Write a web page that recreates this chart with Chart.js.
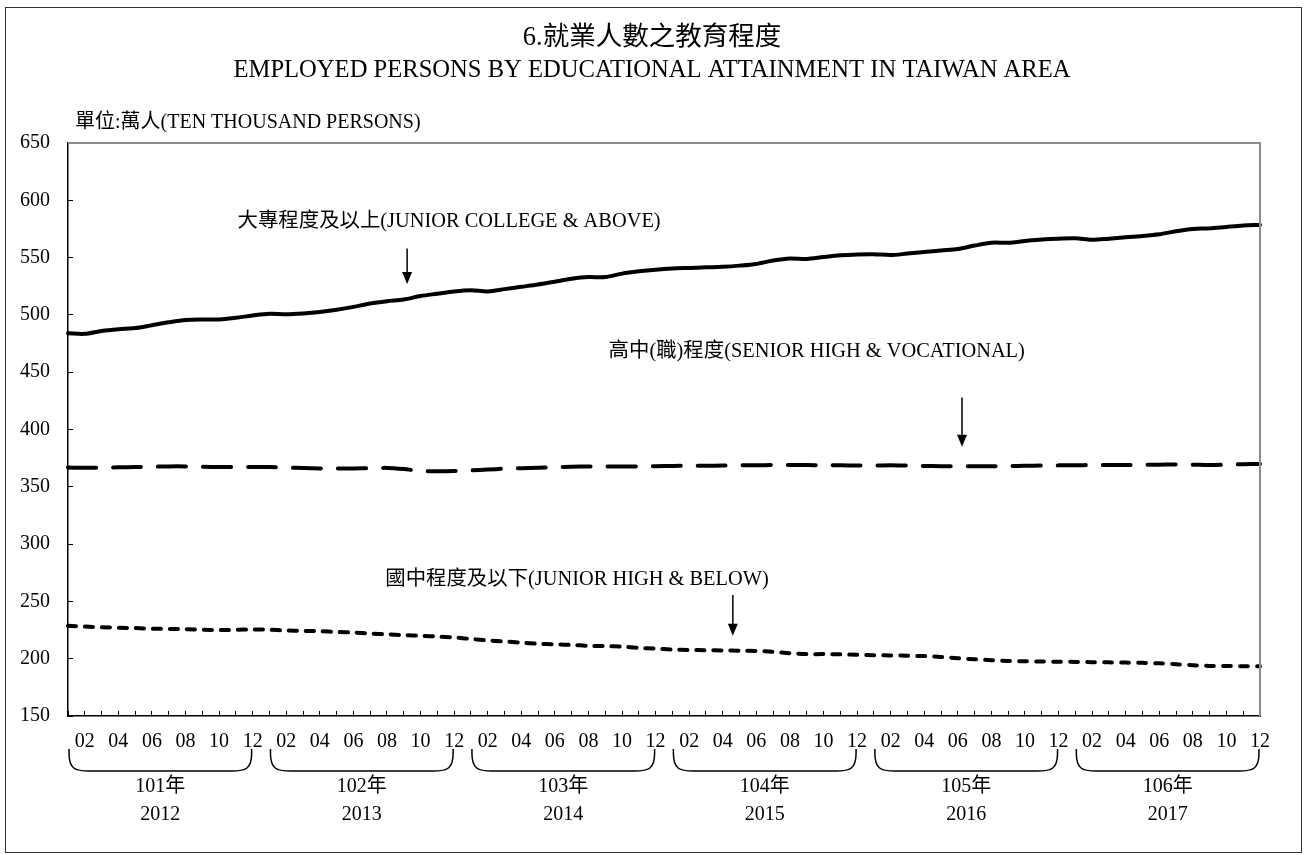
<!DOCTYPE html>
<html><head><meta charset="utf-8">
<script src="https://cdn.jsdelivr.net/npm/chart.js@4"></script>
<style>html,body{margin:0;padding:0;background:#fff}#wrap{width:1304px;height:855px;position:relative}canvas{display:block}</style>
</head><body><div id="wrap"><canvas id="c" width="1304" height="855"></canvas></div>
<script>
// ---- data ----
const years = [2012, 2013, 2014, 2015, 2016, 2017];
const rocYears = ['101年', '102年', '103年', '104年', '105年', '106年'];
const monthCodes = ['01','02','03','04','05','06','07','08','09','10','11','12'];
const categories = years.flatMap(y => monthCodes.map(m => y + '-' + m));
const tickLabels = ['02','04','06','08','10','12'];
const yTickValues = [150, 200, 250, 300, 350, 400, 450, 500, 550, 600, 650];

const titleLines = ['6.就業人數之教育程度', 'EMPLOYED PERSONS BY EDUCATIONAL ATTAINMENT IN TAIWAN AREA'];
const unitLabel = '單位:萬人(TEN THOUSAND PERSONS)';
const seriesNames = ['大專程度及以上(JUNIOR COLLEGE & ABOVE)', '高中(職)程度(SENIOR HIGH & VOCATIONAL)', '國中程度及以下(JUNIOR HIGH & BELOW)'];

const juniorCollegeAbove = [
  484,483.5,486,487.5,488.5,491,493.5,495.5,496,496,497.5,499.5,
  501,500.5,501.2,502.5,504.5,507,510,512,513.5,516.5,518.5,520.5,
  521.5,520.5,522.5,524.5,526.5,529,531.5,533,533,536,538,539.5,
  540.5,541,541.5,542,543,544.5,547.5,549.3,548.8,550.5,552,552.8,
  553,552.2,553.5,554.8,556.2,557.5,560.5,563,563,564.5,565.8,566.5,
  566.8,565.5,566.5,567.8,568.8,570.3,573,575,575.5,576.8,578,578.5
];
const seniorHighVocational = [
  366.8,366.6,366.8,367,367.2,367.5,367.8,367.8,367.5,367.3,367.3,367.2,
  367.2,366.8,366.3,366,366,366,366.2,366.5,365.5,363.8,363.5,363.7,
  364.3,365,365.8,366.2,366.6,367,367.5,367.7,367.8,367.8,367.8,368,
  368.2,368.3,368.3,368.5,368.7,368.8,369,369,369,368.8,368.7,368.5,
  368.6,368.7,368.5,368.2,368,368,368,368,368.2,368.3,368.5,368.7,
  368.8,369,369,369,369.2,369.3,369.5,369.3,369,369.3,369.7,370
];
const juniorHighBelow = [
  228.8,228,227.5,227,226.7,226.2,226,225.8,225.3,225,225.2,225.5,
  225.3,224.6,224.3,224,223.3,222.8,222,221.3,220.5,220,219.3,218.5,
  217.2,216,215,214,213,212.5,212,211.3,211,210.5,209.5,208.8,
  208,207.6,207.4,207.2,207,206.8,206,204.8,204,204,203.8,203.4,
  203.1,202.9,202.6,202.3,201.5,200.4,199.5,198.7,198,197.8,197.5,197.4,
  197.2,197,196.8,196.6,196.4,196,195.2,194.3,193.7,193.6,193.5,193.4
];

// ---- annotation placement (data coordinates) ----
const annotations = [
  { text: seriesNames[0], labelIdx: 10.1, labelVal: 581, arrowIdx: 20.2, fromVal: 558, toVal: 527 },
  { text: seriesNames[1], labelIdx: 32.2, labelVal: 467.6, arrowIdx: 53.25, fromVal: 428, toVal: 385 },
  { text: seriesNames[2], labelIdx: 18.9, labelVal: 268.7, arrowIdx: 39.6, fromVal: 255.6, toVal: 220 }
];

const FONT = "'Liberation Serif', 'Noto Sans CJK TC', serif";

const decor = {
  id: 'decor',
  afterDraw(chart) {
    const ctx = chart.ctx;
    const xs = chart.scales.x, ys = chart.scales.y;
    const ca = chart.chartArea;
    const W = chart.width;
    ctx.save();
    // outer frame
    ctx.strokeStyle = '#333';
    ctx.lineWidth = 1;
    ctx.strokeRect(5.5, 7.5, 1296, 845);
    // titles
    ctx.fillStyle = '#000';
    ctx.textAlign = 'center';
    ctx.textBaseline = 'middle';
    ctx.font = '26.5px ' + FONT;
    ctx.fillText(titleLines[0], W / 2, 38);
    ctx.font = '24.6px ' + FONT;
    ctx.fillText(titleLines[1], W / 2, 71);
    // plot top & right edges
    ctx.strokeStyle = '#8c8c8c';
    ctx.lineWidth = 2;
    ctx.beginPath();
    ctx.moveTo(ca.left, ca.top);
    ctx.lineTo(ca.right, ca.top);
    ctx.lineTo(ca.right, ca.bottom);
    ctx.stroke();
    // unit label
    ctx.fillStyle = '#000';
    ctx.font = '20px ' + FONT;
    ctx.textAlign = 'left';
    ctx.textBaseline = 'middle';
    ctx.fillText(unitLabel, 75, 123);
    // annotations
    annotations.forEach(a => {
      ctx.font = '20.4px ' + FONT;
      ctx.textAlign = 'left';
      ctx.textBaseline = 'middle';
      ctx.fillStyle = '#000';
      ctx.fillText(a.text, xs.getPixelForValue(a.labelIdx), ys.getPixelForValue(a.labelVal));
      const ax = xs.getPixelForValue(a.arrowIdx);
      const y0 = ys.getPixelForValue(a.fromVal);
      const y1 = ys.getPixelForValue(a.toVal);
      ctx.strokeStyle = '#000';
      ctx.lineWidth = 1.5;
      ctx.beginPath();
      ctx.moveTo(ax, y0);
      ctx.lineTo(ax, y1 - 10);
      ctx.stroke();
      ctx.beginPath();
      ctx.moveTo(ax - 5, y1 - 12);
      ctx.lineTo(ax + 5, y1 - 12);
      ctx.lineTo(ax, y1);
      ctx.closePath();
      ctx.fill();
    });
    // year brackets and labels
    const yTop = 749, yBot = 771;
    years.forEach((yr, k) => {
      const x0 = xs.getPixelForValue(12 * k) + 1;
      const x1 = xs.getPixelForValue(12 * k + 11) - 1;
      ctx.strokeStyle = '#000';
      ctx.lineWidth = 1.5;
      ctx.beginPath();
      ctx.moveTo(x0, yTop);
      ctx.lineTo(x0, yTop + 4);
      ctx.bezierCurveTo(x0, yBot - 2, x0 + 6, yBot, x0 + 20, yBot);
      ctx.lineTo(x1 - 20, yBot);
      ctx.bezierCurveTo(x1 - 6, yBot, x1, yBot - 2, x1, yTop + 4);
      ctx.lineTo(x1, yTop);
      ctx.stroke();
      const cx = (x0 + x1) / 2;
      ctx.font = '20px ' + FONT;
      ctx.textAlign = 'center';
      ctx.textBaseline = 'middle';
      ctx.fillStyle = '#000';
      ctx.fillText(rocYears[k], cx, 787);
      ctx.fillText(String(yr), cx, 815);
    });
    ctx.restore();
  }
};

new Chart(document.getElementById('c'), {
  type: 'line',
  data: {
    labels: categories,
    datasets: [
      { label: seriesNames[0], data: juniorCollegeAbove, borderColor: '#000', borderWidth: 4, pointRadius: 0, tension: 0.3, borderCapStyle: 'round', borderJoinStyle: 'round' },
      { label: seriesNames[1], data: seniorHighVocational, borderColor: '#000', borderWidth: 4, pointRadius: 0, tension: 0.3, borderDash: [28, 17], borderCapStyle: 'round' },
      { label: seriesNames[2], data: juniorHighBelow, borderColor: '#000', borderWidth: 4, pointRadius: 0, tension: 0.3, borderDash: [8, 9], borderCapStyle: 'round' }
    ]
  },
  options: {
    responsive: false,
    animation: false,
    devicePixelRatio: 1,
    layout: { padding: { left: 0, right: 44, top: 143, bottom: 0 } },
    plugins: {
      legend: { display: false },
      tooltip: { enabled: false },
      title: { display: false },
      subtitle: { display: false }
    },
    scales: {
      x: {
        type: 'category',
        offset: false,
        border: { display: true, color: '#000', width: 1.5 },
        grid: { display: true, drawOnChartArea: false, drawTicks: true, tickLength: -5, color: '#000', lineWidth: 1 },
        ticks: {
          autoSkip: false, maxRotation: 0, minRotation: 0, padding: 19, color: '#000',
          font: { family: FONT, size: 20 },
          callback: function (v, i) { const m = categories[i].slice(5); return tickLabels.includes(m) ? m : ''; }
        },
        afterFit: s => { s.height = 139; }
      },
      y: {
        min: yTickValues[0], max: yTickValues[yTickValues.length - 1],
        border: { display: true, color: '#000', width: 1.5 },
        grid: { display: true, drawOnChartArea: false, drawTicks: true, tickLength: -5, color: '#000', lineWidth: 1 },
        afterBuildTicks: s => { s.ticks = yTickValues.map(v => ({ value: v })); },
        ticks: { padding: 23, color: '#000', font: { family: FONT, size: 20 } },
        afterFit: s => { s.width = 68; }
      }
    }
  },
  plugins: [decor]
});
</script>
</body></html>
